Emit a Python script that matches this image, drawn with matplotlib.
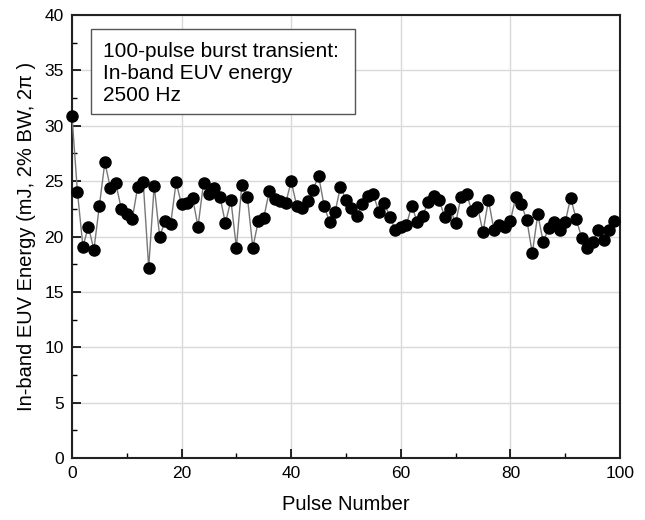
import matplotlib
matplotlib.use("Agg")
import matplotlib.pyplot as plt
from matplotlib.patches import Rectangle
import numpy as np

plt.rcParams['font.family'] = ['Liberation Sans', 'DejaVu Sans']

pulse = np.arange(100)
energy = [30.9, 24.0, 19.1, 20.9, 18.8, 22.8, 26.7, 24.4, 24.8, 22.5,
          22.0, 21.6, 24.5, 24.9, 17.2, 24.6, 20.0, 21.4, 21.1, 24.9,
          22.9, 23.0, 23.5, 20.9, 24.8, 23.8, 24.4, 23.6, 21.2, 23.3,
          19.0, 24.7, 23.6, 19.0, 21.4, 21.7, 24.1, 23.4, 23.2, 23.0,
          25.0, 22.8, 22.6, 23.2, 24.2, 25.5, 22.8, 21.3, 22.2, 24.5,
          23.3, 22.6, 21.9, 22.9, 23.7, 23.8, 22.2, 23.0, 21.8, 20.6,
          20.9, 21.0, 22.8, 21.3, 21.9, 23.1, 23.7, 23.3, 21.8, 22.5,
          21.2, 23.6, 23.8, 22.3, 22.7, 20.4, 23.3, 20.6, 21.0, 20.9,
          21.4, 23.6, 22.9, 21.5, 18.5, 22.0, 19.5, 20.8, 21.3, 20.6,
          21.3, 23.5, 21.6, 19.9, 19.0, 19.5, 20.6, 19.7, 20.6, 21.4]

legend_text = "100-pulse burst transient:\nIn-band EUV energy\n2500 Hz"

fig = plt.figure(figsize=(6.45, 5.2), dpi=100)
ax = fig.add_axes([0.1116, 0.1192, 0.8496, 0.8518])

ax.plot(pulse, energy, color='#777777', linewidth=1.0, marker='o',
        markersize=8, markerfacecolor='black', markeredgecolor='black',
        clip_on=False, zorder=3)

ax.set_xlim(0, 100)
ax.set_ylim(0, 40)
ax.set_xticks(np.arange(0, 101, 20))
ax.set_xticks(np.arange(0, 101, 10), minor=True)
ax.set_yticks(np.arange(0, 41, 5))
ax.set_yticks(np.arange(0, 41, 2.5), minor=True)
ax.tick_params(which='major', direction='in', length=6.5, width=1.2,
               labelsize=12.5, pad=6)
ax.tick_params(which='minor', direction='in', length=3.5, width=1.0)
ax.grid(True, which='major', color='#d9d9d9', linewidth=1.0)
ax.set_axisbelow(True)
for s in ax.spines.values():
    s.set_linewidth(1.5)
    s.set_color('#222222')

ax.set_xlabel('Pulse Number', fontsize=14.5, labelpad=10)
ax.set_ylabel('In-band EUV Energy (mJ, 2% BW, 2π )', fontsize=14.5, labelpad=6)

# legend-like box drawn by hand
ax.add_patch(Rectangle((0.035, 0.776), 0.481, 0.192, transform=ax.transAxes,
                       facecolor='white', edgecolor='#555555', linewidth=1.0,
                       zorder=4))
ax.text(0.057, 0.940, legend_text, transform=ax.transAxes, fontsize=15,
        va='top', ha='left', linespacing=1.22, zorder=5)

plt.savefig('out.png', dpi=100)
